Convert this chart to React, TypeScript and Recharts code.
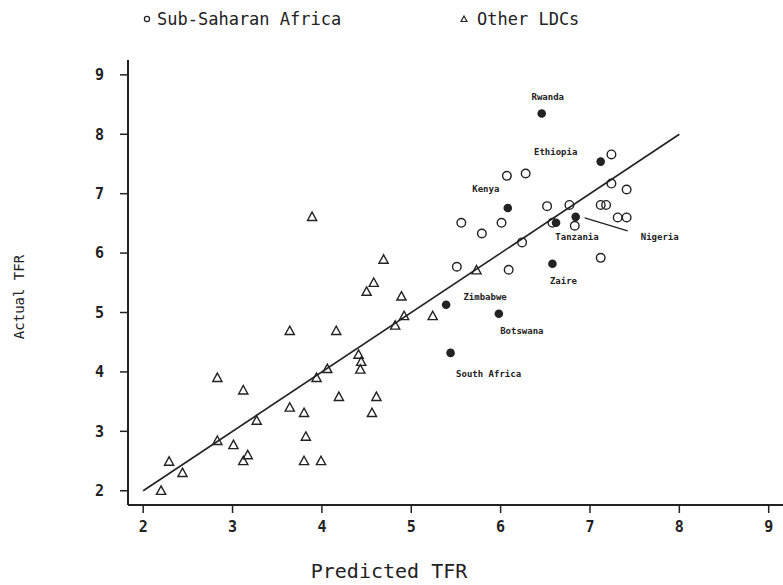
import React from 'react'
import { ScatterChart, Scatter, XAxis, YAxis, ReferenceLine } from 'recharts'

const FONT = '"DejaVu Sans Mono", "Liberation Mono", monospace'
const INK = '#222'

const axisTicks = [2, 3, 4, 5, 6, 7, 8, 9]

// Other LDCs (open triangles)
const otherLdcs = [
  { x: 2.2, y: 2.0 }, { x: 2.29, y: 2.49 }, { x: 2.44, y: 2.3 }, { x: 2.83, y: 3.9 },
  { x: 2.83, y: 2.84 }, { x: 3.01, y: 2.77 }, { x: 3.12, y: 3.69 }, { x: 3.17, y: 2.6 },
  { x: 3.12, y: 2.5 }, { x: 3.27, y: 3.18 }, { x: 3.64, y: 3.4 }, { x: 3.64, y: 4.69 },
  { x: 3.8, y: 3.31 }, { x: 3.82, y: 2.91 }, { x: 3.8, y: 2.5 }, { x: 3.94, y: 3.9 },
  { x: 3.89, y: 6.61 }, { x: 3.99, y: 2.5 }, { x: 4.06, y: 4.05 }, { x: 4.16, y: 4.69 },
  { x: 4.19, y: 3.58 }, { x: 4.41, y: 4.29 }, { x: 4.44, y: 4.17 }, { x: 4.43, y: 4.04 },
  { x: 4.5, y: 5.35 }, { x: 4.58, y: 5.5 }, { x: 4.56, y: 3.31 }, { x: 4.61, y: 3.58 },
  { x: 4.69, y: 5.89 }, { x: 4.82, y: 4.78 }, { x: 4.89, y: 5.27 }, { x: 4.92, y: 4.94 },
  { x: 5.24, y: 4.94 }, { x: 5.73, y: 5.71 },
]

// Sub-Saharan Africa (open circles)
const subSaharan = [
  { x: 7.24, y: 7.66 }, { x: 6.07, y: 7.3 }, { x: 6.28, y: 7.34 }, { x: 7.24, y: 7.17 },
  { x: 7.41, y: 7.07 }, { x: 6.52, y: 6.79 }, { x: 6.77, y: 6.81 }, { x: 7.12, y: 6.81 },
  { x: 7.18, y: 6.81 }, { x: 5.56, y: 6.51 }, { x: 6.01, y: 6.51 }, { x: 6.58, y: 6.51 },
  { x: 6.83, y: 6.46 }, { x: 7.31, y: 6.6 }, { x: 7.41, y: 6.6 }, { x: 5.79, y: 6.33 },
  { x: 6.24, y: 6.18 }, { x: 7.12, y: 5.92 }, { x: 5.51, y: 5.77 }, { x: 6.09, y: 5.72 },
]

// labelled countries (filled circles)
const namedCountries = [
  { name: 'Rwanda', x: 6.46, y: 8.35 },
  { name: 'Ethiopia', x: 7.12, y: 7.54 },
  { name: 'Kenya', x: 6.08, y: 6.76 },
  { name: 'Tanzania', x: 6.62, y: 6.51 },
  { name: 'Nigeria', x: 6.84, y: 6.61 },
  { name: 'Zaire', x: 6.58, y: 5.82 },
  { name: 'Zimbabwe', x: 5.39, y: 5.13 },
  { name: 'Botswana', x: 5.98, y: 4.98 },
  { name: 'South Africa', x: 5.44, y: 4.32 },
]

const fitLine = [{ x: 2, y: 2 }, { x: 8, y: 8 }]

// where each country name sits relative to its dot (px)
const labelOffset: Record<string, [number, number]> = {
  Rwanda: [6, -16],
  Ethiopia: [-45, -9],
  Kenya: [-22, -18],
  Tanzania: [21, 15],
  Nigeria: [84, 21],
  Zaire: [11, 18],
  Zimbabwe: [39, -7],
  Botswana: [23, 18],
  'South Africa': [38, 22],
}

const Ring = (p: any) => (
  <circle cx={p.cx} cy={p.cy} r={4.3} fill="none" stroke={INK} strokeWidth={1.4} />
)

const Tri = (p: any) => {
  const { cx, cy } = p
  return (
    <path
      d={`M${cx},${cy - 4.8} L${cx + 4.6},${cy + 3.6} L${cx - 4.6},${cy + 3.6} Z`}
      fill="none"
      stroke={INK}
      strokeWidth={1.4}
    />
  )
}

const NamedDot = (p: any) => {
  const { cx, cy, payload } = p
  const [dx, dy] = labelOffset[payload.name] || [0, -14]
  return (
    <g>
      <circle cx={cx} cy={cy} r={4.3} fill={INK} />
      {payload.name === 'Nigeria' && (
        <line x1={cx + 9} y1={cy + 1} x2={cx + 52} y2={cy + 14} stroke={INK} strokeWidth={1.4} />
      )}
      <text
        x={cx + dx}
        y={cy + dy}
        textAnchor="middle"
        dominantBaseline="middle"
        fontFamily={FONT}
        fontSize={9}
        fontWeight={600}
        fill={INK}
      >
        {payload.name}
      </text>
    </g>
  )
}

export default function App() {
  return (
    <div style={{ position: 'absolute', left: 0, top: 0, width: 783, height: 585, background: '#fff' }}>
      {/* legend across the top */}
      <svg width={783} height={40} style={{ position: 'absolute', left: 0, top: 0 }}>
        <circle cx={147} cy={19} r={2.6} fill="none" stroke={INK} strokeWidth={1.2} />
        <text x={157} y={25} fontFamily={FONT} fontSize={17} fill={INK}>Sub-Saharan Africa</text>
        <path d="M464,16 L467,21.5 L461,21.5 Z" fill="none" stroke={INK} strokeWidth={1.2} />
        <text x={477} y={25} fontFamily={FONT} fontSize={17} fill={INK}>Other LDCs</text>
      </svg>
      <svg width={40} height={585} style={{ position: 'absolute', left: 0, top: 0 }}>
        <text
          x={20}
          y={297}
          transform="rotate(-90 20 297)"
          textAnchor="middle"
          dominantBaseline="middle"
          fontFamily={FONT}
          fontSize={14}
          fill={INK}
        >
          Actual TFR
        </text>
      </svg>
      <ScatterChart width={783} height={585} margin={{ top: 60, right: 0, left: 0, bottom: 0 }}>
        <XAxis
          type="number"
          dataKey="x"
          domain={[1.83, 9.16]}
          ticks={axisTicks}
          allowDataOverflow
          height={80}
          axisLine={{ stroke: INK, strokeWidth: 2 }}
          tickLine={{ stroke: INK, strokeWidth: 1.5 }}
          tickSize={8}
          tickMargin={8}
          tick={{ fill: INK, fontSize: 15, fontFamily: FONT, fontWeight: 600 }}
          label={{
            content: () => (
              <text x={389} y={578} textAnchor="middle" fontFamily={FONT} fontSize={20} fill={INK}>
                Predicted TFR
              </text>
            ),
          }}
        />
        <YAxis
          type="number"
          dataKey="y"
          domain={[1.76, 9.25]}
          ticks={axisTicks}
          allowDataOverflow
          width={128}
          axisLine={{ stroke: INK, strokeWidth: 2 }}
          tickLine={{ stroke: INK, strokeWidth: 1.5 }}
          tickSize={8}
          tickMargin={16}
          tick={{ fill: INK, fontSize: 15, fontFamily: FONT, fontWeight: 600 }}
        />
        <ReferenceLine segment={fitLine} stroke={INK} strokeWidth={1.6} ifOverflow="visible" />
        <Scatter data={otherLdcs} shape={Tri} isAnimationActive={false} />
        <Scatter data={subSaharan} shape={Ring} isAnimationActive={false} />
        <Scatter data={namedCountries} shape={NamedDot} isAnimationActive={false} />
      </ScatterChart>
    </div>
  )
}
